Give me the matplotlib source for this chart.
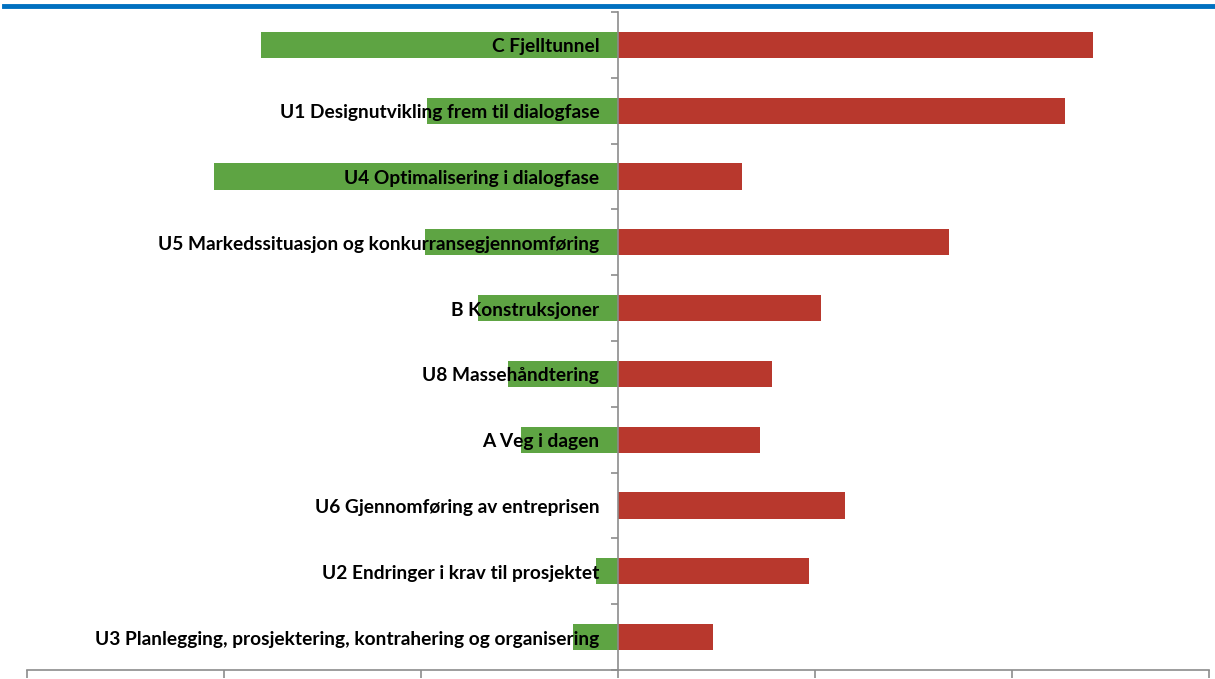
import numpy as np
import matplotlib.pyplot as plt
from matplotlib.lines import Line2D

# Usikkerhetselementer, nedside (grønn) og oppside (rød)
elementer = ['C Fjelltunnel',
             'U1 Designutvikling frem til dialogfase',
             'U4 Optimalisering i dialogfase',
             'U5 Markedssituasjon og konkurransegjennomføring',
             'B Konstruksjoner',
             'U8 Massehåndtering',
             'A Veg i dagen',
             'U6 Gjennomføring av entreprisen',
             'U2 Endringer i krav til prosjektet',
             'U3 Planlegging, prosjektering, kontrahering og organisering']
nedside = [-18.1, -9.7, -20.5, -9.8, -7.1, -5.6, -4.9, 0.0, -1.1, -2.3]
oppside = [24.1, 22.7, 6.3, 16.8, 10.3, 7.8, 7.2, 11.5, 9.7, 4.8]

gronn = '#5ea443'
rod = '#b8382d'
aksefarge = '#8c8c8c'

fig = plt.figure(figsize=(12.15, 6.79), dpi=100)
ax = fig.add_axes([27/1215, 9/679, 1182/1215, 658/679])

y = np.arange(len(elementer))
ax.barh(y, nedside, height=0.4, color=gronn, zorder=2)
ax.barh(y, oppside, height=0.4, color=rod, zorder=2)

for i, navn in enumerate(elementer):
    ax.text(-0.95, i + 0.03, navn, ha='right', va='center', fontsize=13.8,
            fontweight='bold', family=['Lato', 'DejaVu Sans'],
            color='black', zorder=3)

ax.set_xlim(-30, 30)
ax.set_ylim(len(elementer) - 0.5, -0.5)
ax.set_xticks(np.arange(-30, 31, 10))
ax.set_xticklabels([])
ax.set_yticks(np.arange(-0.5, len(elementer), 1))
ax.set_yticklabels([])

ax.spines['left'].set_position(('data', 0))
ax.spines['left'].set_zorder(4)
for s in ['top', 'right']:
    ax.spines[s].set_visible(False)
for s in ['left', 'bottom']:
    ax.spines[s].set_color(aksefarge)
    ax.spines[s].set_linewidth(1.2)
ax.tick_params(axis='x', direction='out', length=6, color=aksefarge, width=1.2)
ax.tick_params(axis='y', direction='out', length=5, color=aksefarge, width=1.2)

# blå linje øverst
fig.add_artist(Line2D([4/1215, 1], [1 - 6/679, 1 - 6/679],
                      color='#0070c0', linewidth=3.5))

fig.savefig('out.png', dpi=100)
